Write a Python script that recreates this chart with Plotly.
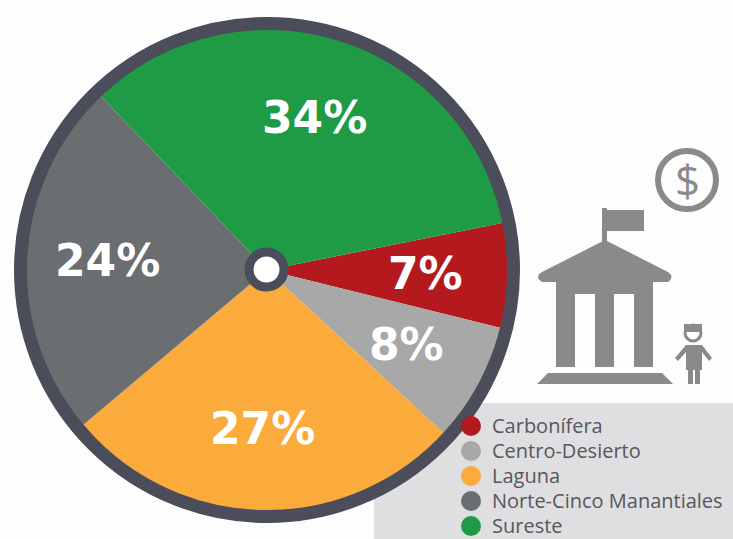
import math
import plotly.graph_objects as go

categories = ["Carbonífera", "Centro-Desierto", "Laguna", "Norte-Cinco Manantiales", "Sureste"]
values = [7, 8, 27, 24, 34]
colors = ["#b4191d", "#a8a8a8", "#fbaa3c", "#6b6e70", "#1f9a45"]

W, H = 733, 539
CX, CY, R = 267, 270, 242
ROT = 78.7
ICON = "#8a8a8a"
RING = "#4b4d5a"
LEGEND_TEXT = "#55575c"

fig = go.Figure()
fig.add_trace(go.Pie(
    labels=categories, values=values, sort=False, direction="clockwise", rotation=ROT,
    marker=dict(colors=colors, line=dict(width=0)), textinfo="none", hoverinfo="label+percent",
    showlegend=False,
    domain=dict(x=[(CX - R) / W, (CX + R) / W], y=[(H - CY - R) / H, (H - CY + R) / H]),
))
# hidden axes span the page in pixels for the decoration
fig.add_trace(go.Scatter(x=[None], y=[None], mode="markers", showlegend=False, hoverinfo="skip"))

# percent labels placed from the values
ann = []
total = sum(values)
cum = 0
for v in values:
    mid = math.radians(ROT + (cum + v / 2) / total * 360)
    cum += v
    ann.append(dict(x=CX - 0.5 + 159 * math.sin(mid), y=CY - 0.5 - 159 * math.cos(mid), text=f"{v}%",
                    showarrow=False, xref="x", yref="y",
                    font=dict(family="DejaVu Sans", size=44, color="white", weight="bold")))
ann.append(dict(x=687, y=180, text="$", showarrow=False, xref="x", yref="y",
                font=dict(family="Open Sans", size=44, color=ICON)))

def poly(path, **kw):
    d = dict(type="path", path=path, xref="x", yref="y", fillcolor=ICON, line=dict(width=0), layer="above")
    d.update(kw)
    return d

def circle(cx, cy, r, fill, lc=None, lw=0, layer="above"):
    return dict(type="circle", xref="x", yref="y", x0=cx - r, x1=cx + r, y0=cy - r, y1=cy + r,
                fillcolor=fill, line=dict(width=lw, color=lc or fill), layer=layer)

shapes = [
    dict(type="rect", xref="x", yref="y", x0=374, x1=733, y0=403, y1=539,
         fillcolor="#dfdfe1", line=dict(width=0), layer="below"),
    circle(CX, CY, 246.5, "rgba(0,0,0,0)", RING, 13),
    circle(CX - 0.5, CY - 0.5, 17.5, "white", RING, 9),
    # coin
    circle(687, 180, 29, "rgba(0,0,0,0)", ICON, 6),
    # flag and pole
    poly("M602,208 L607,208 L607,242 L602,242 Z"),
    poly("M607,210 L644,210 L644,231 L607,231 Z"),
    # roof
    poly("M605,240 L668,272 Q675,277 668,282 L542,282 Q534,277 542,272 Z"),
    # columns
    poly("M556,282 L653,282 L653,294 L556,294 Z"),
    poly("M556,294 L575,294 L575,367 L556,367 Z"),
    poly("M595,294 L614,294 L614,367 L595,367 Z"),
    poly("M634,294 L653,294 L653,367 L634,367 Z"),
    # base
    poly("M537,384 L548,373 L662,373 L673,384 Z"),
    # child
    circle(693, 333, 8, "white", ICON, 3),
    poly("M684,324 L702,324 L702,332 L684,332 Z"),
    poly("M686,345 L702,345 L702,370 L686,370 Z"),
    poly("M686,345 L675,358 L678,361 L686,352 Z"),
    poly("M702,345 L712,358 L709,361 L702,352 Z"),
    poly("M688,370 L693,370 L693,384 L688,384 Z"),
    poly("M695,370 L700,370 L700,384 L695,384 Z"),
]

# key: one swatch and one label per category
for i, (c, col) in enumerate(zip(categories, colors)):
    ky = 425 + 25 * i
    shapes.append(circle(471, ky + 1, 10, col))
    ann.append(dict(x=490, y=ky, text=c, showarrow=False, xref="x", yref="y", xanchor="left",
                    font=dict(family="Open Sans", size=20, color=LEGEND_TEXT)))

fig.update_layout(
    width=W, height=H, margin=dict(l=0, r=0, t=0, b=0, autoexpand=False),
    paper_bgcolor="#fdfdfd", plot_bgcolor="rgba(0,0,0,0)",
    xaxis=dict(range=[0, W], visible=False, fixedrange=True),
    yaxis=dict(range=[H, 0], visible=False, fixedrange=True),
    shapes=shapes, annotations=ann, showlegend=False,
)
fig.write_html("out.html", config=dict(displayModeBar=False),
               post_script="document.body.style.margin='0';document.documentElement.style.overflow='hidden';")
